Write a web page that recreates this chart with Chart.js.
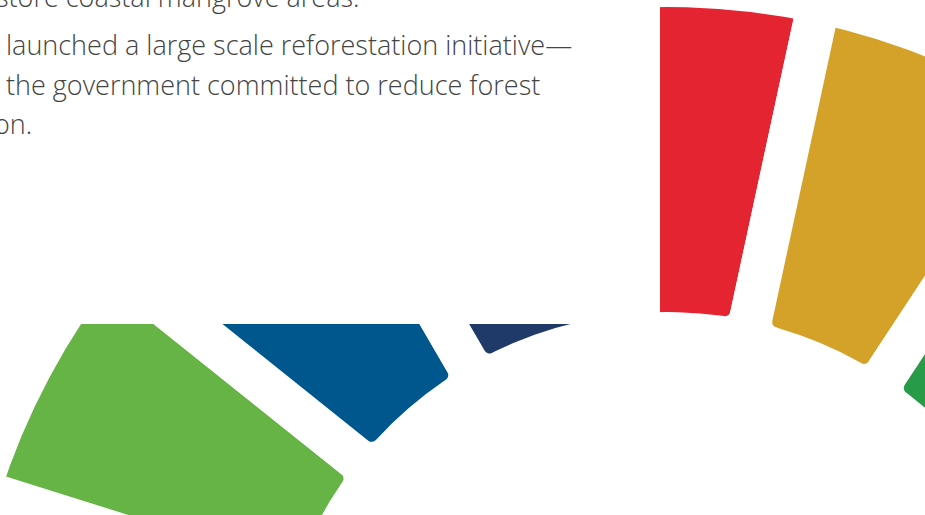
<!DOCTYPE html>
<html>
<head>
<meta charset="utf-8">
<script src="https://cdn.jsdelivr.net/npm/chart.js@4.4.1/dist/chart.umd.min.js"></script>
<style>
  html, body { margin: 0; padding: 0; width: 925px; height: 515px; overflow: hidden; background: #fff; }
  #wheel { position: absolute; left: -63px; top: -23px; }
  #cover { position: absolute; left: 0; top: 0; width: 660px; height: 324px; background: #fff; overflow: hidden; }
  .line { position: absolute; white-space: nowrap; font-family: "Open Sans", sans-serif; font-weight: 300; font-size: 27px; line-height: 27px; color: #444; }
</style>
</head>
<body>
<canvas id="wheel" width="1460" height="1460"></canvas>
<div id="cover">
  <div class="line" style="left:-4px; top:-17px;">store coastal mangrove areas.</div>
  <div class="line" style="left:6px; top:31px;">launched a large scale reforestation initiative—</div>
  <div class="line" style="left:6px; top:71px;">the government committed to reduce forest</div>
  <div class="line" style="left:-6px; top:110px;">on.</div>
</div>
<script>
// 17 goals, equal slices of the wheel
const goals = [
  'No Poverty', 'Zero Hunger', 'Good Health and Well-being', 'Quality Education',
  'Gender Equality', 'Clean Water and Sanitation', 'Affordable and Clean Energy',
  'Decent Work and Economic Growth', 'Industry, Innovation and Infrastructure',
  'Reduced Inequalities', 'Sustainable Cities and Communities',
  'Responsible Consumption and Production', 'Climate Action', 'Life Below Water',
  'Life on Land', 'Peace, Justice and Strong Institutions', 'Partnerships for the Goals'
];
const goalShares = [1, 1, 1, 1, 1, 1, 1, 1, 1, 1, 1, 1, 1, 1, 1, 1, 1];
const goalColors = [
  '#e52432', '#d4a229', '#279b48', '#c31f33', '#ef402b', '#00aed9', '#fdb713',
  '#8f1838', '#f36d25', '#e11484', '#f99d26', '#cf8d2a', '#48773e', '#007dbc',
  '#66b446', '#00578d', '#1f3968'
];

const ctx = document.getElementById('wheel').getContext('2d');
new Chart(ctx, {
  type: 'doughnut',
  data: {
    labels: goals,
    datasets: [{
      data: goalShares,
      backgroundColor: goalColors,
      borderColor: '#ffffff',
      borderWidth: 43,
      borderRadius: { outerStart: 0, outerEnd: 0, innerStart: 27, innerEnd: 27 },
      borderAlign: 'center'
    }]
  },
  options: {
    responsive: false,
    animation: false,
    radius: 721.5,
    cutout: '51.77%',
    rotation: -9,
    layout: { padding: 0 },
    plugins: {
      legend: { display: false },
      tooltip: { enabled: false }
    }
  }
});
</script>
</body>
</html>
